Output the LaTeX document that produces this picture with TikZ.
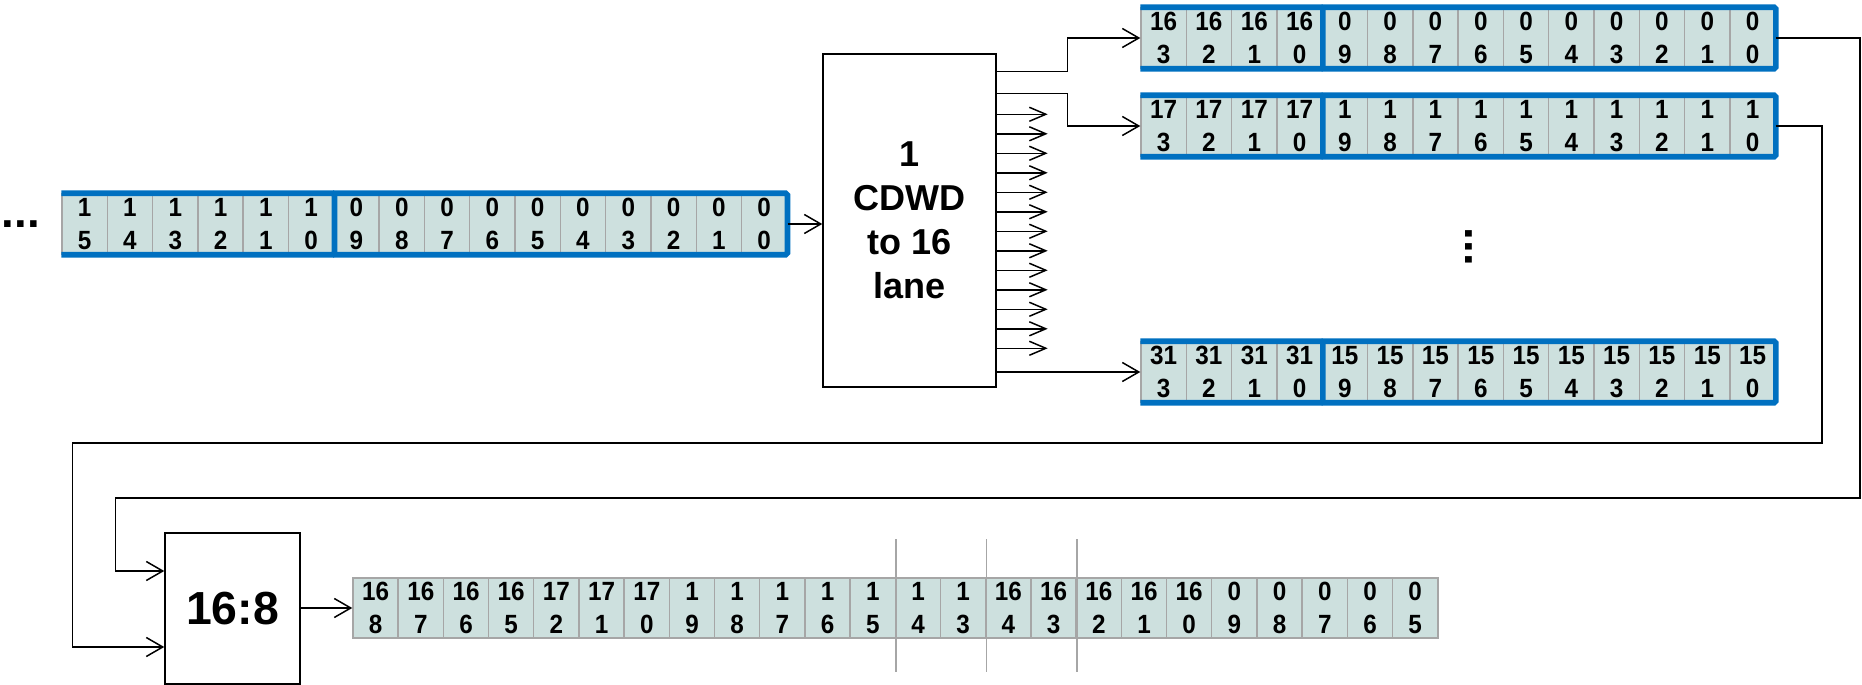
\documentclass[tikz,border=0pt]{standalone}
\usepackage{fontspec}
\setmainfont{Liberation Sans}
\newfontfamily\cellfont{Liberation Sans}[FakeStretch=0.92]
\usetikzlibrary{positioning,arrows.meta,calc}

\definecolor{cellfill}{HTML}{CDE0DE}
\definecolor{cellgray}{HTML}{A6A6A6}
\definecolor{laneblue}{HTML}{0070C0}

\newcommand{\celltext}[2]{\fontsize{15}{18.5}\selectfont\cellfont\bfseries #1\\#2}

\begin{document}
\begin{tikzpicture}[
  x=0.02cm, y=-0.02cm,
  cell/.style={draw=cellgray, line width=0.8pt, fill=cellfill, minimum width=0.906cm,
    minimum height=1.2cm, inner sep=0pt, align=center,
    font=\fontsize{15}{18.5}\selectfont\cellfont\bfseries},
  band/.style={draw=laneblue, line width=3.2pt, rounded corners=1pt},
  blk/.style={draw, line width=0.85pt, inner sep=0pt, align=center},
  arr/.style={-{Straight Barb[length=3.3mm,width=3.8mm]}, line width=0.85pt},
  lanearr/.style={-{Straight Barb[length=3.3mm,width=2.8mm]}, line width=0.85pt},
  sep/.style={draw=cellgray, line width=0.9pt},
  dots/.style={inner sep=0pt, font=\fontsize{26}{30}\selectfont\bfseries}
]
  \useasboundingbox (0,0) rectangle (1862,685);

  % incoming CDWD
  \node[dots] (more) at (21,224) {...};
  \foreach \a/\b [count=\i] in {1/5,1/4,1/3,1/2,1/1,1/0,0/9,0/8,0/7,0/6,0/5,0/4,0/3,0/2,0/1,0/0}
    \node[cell] (in\i) at ({62+45.3*(\i-0.5)},224) {\celltext{\a}{\b}};
  \draw[band] (in1.north west) -- (in6.north east) -- (in6.south east) -- (in1.south west);
  \draw[band] (in7.north west) -- (in16.north east) -- (in16.south east) -- (in7.south west);

  % splitter
  \node[blk, minimum width=3.46cm, minimum height=6.66cm,
    font=\fontsize{20.5}{25}\selectfont\bfseries] (split) at (909.5,220.5) {1\\CDWD\\to 16\\lane};
  \draw[arr] (in16.east) -- (in16.east -| split.west);

  % lanes
  \foreach \r/\hi/\lo/\y in {A/16/0/38, B/17/1/126, C/31/15/372} {
    \foreach \j in {1,...,14} {
      \ifnum\j<5
        \pgfmathtruncatemacro\digit{4-\j}\edef\lead{\hi}
      \else
        \pgfmathtruncatemacro\digit{14-\j}\edef\lead{\lo}
      \fi
      \node[cell] (lane\r\j) at ({1141+45.3*(\j-0.5)},\y) {\celltext{\lead}{\digit}};
    }
    \draw[band] (lane\r1.north west) -- (lane\r4.north east) -- (lane\r4.south east) -- (lane\r1.south west);
    \draw[band] (lane\r5.north west) -- (lane\r14.north east) -- (lane\r14.south east) -- (lane\r5.south west);
  }
  \node[dots, rotate=-90] (vdots) at (1469,247) {...};

  \draw[arr] ($(split.north east)+(0,18)$) -- ++(71,0) |- (laneA1.west);
  \draw[arr] ($(split.north east)+(0,40)$) -- ++(71,0) |- (laneB1.west);
  \draw[arr] (split.east |- laneC1.west) -- (laneC1.west);
  \foreach \k in {0,...,12}
    \draw[lanearr] ($(split.north east)+(0,61+19.5*\k)$) -- ++(51,0);

  % 16:8 mux
  \node[blk, minimum width=2.7cm, minimum height=3.02cm,
    font=\fontsize{26.4}{30}\selectfont\bfseries] (mux) at (232.5,608.5) {16:8};
  \draw[arr] (laneA14.east) -| (1860,498) -| ($(mux.west)+(-49,-37.5)$) -- ($(mux.west)+(0,-37.5)$);
  \draw[arr] (laneB14.east) -| (1822,443) -| ($(mux.west)+(-92,38.5)$) -- ($(mux.west)+(0,38.5)$);

  % outgoing
  \foreach \a/\b [count=\i] in {16/8,16/7,16/6,16/5,17/2,17/1,17/0,1/9,1/8,1/7,1/6,1/5,
      1/4,1/3,16/4,16/3,16/2,16/1,16/0,0/9,0/8,0/7,0/6,0/5}
    \node[cell] (out\i) at ({353+45.2*(\i-0.5)},608) {\celltext{\a}{\b}};
  \draw[arr] (mux.east |- out1.west) -- (out1.west);
  \foreach \i in {12,14,16}
    \draw[sep] ($(out\i.north east)+(0,-38)$) -- ($(out\i.south east)+(0,33)$);
\end{tikzpicture}
\end{document}
